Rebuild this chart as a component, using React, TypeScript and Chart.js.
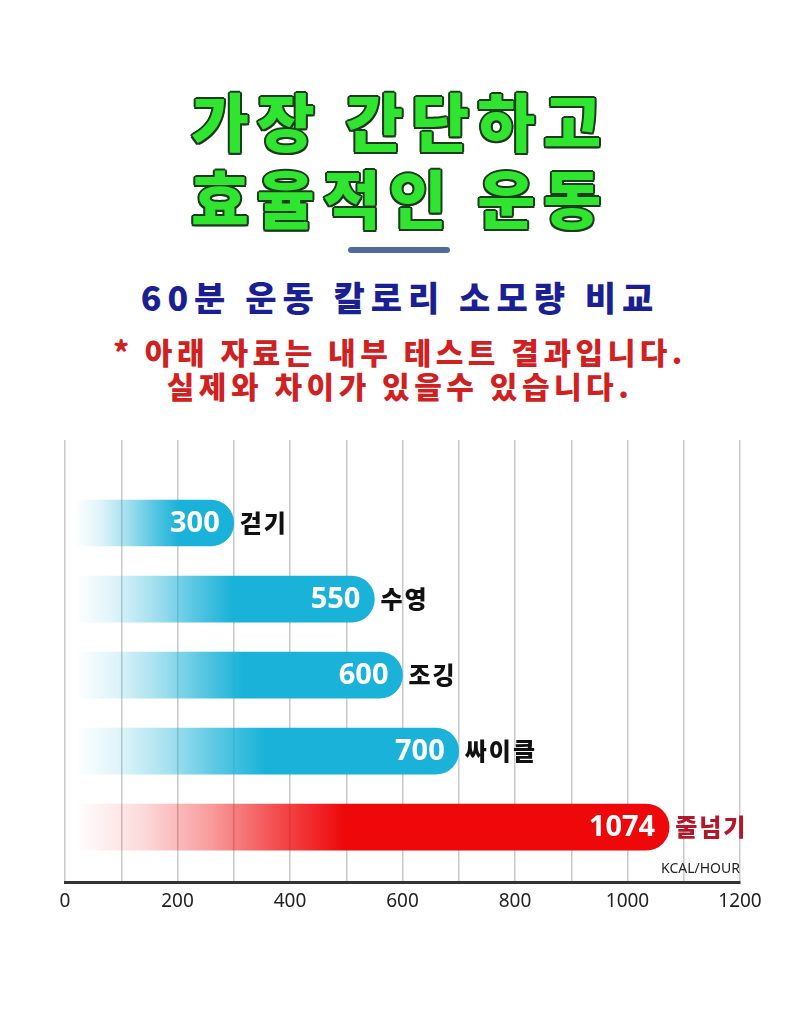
import React, { useEffect, useRef } from 'react';
import { Chart, registerables } from 'chart.js';

Chart.register(...registerables);

// ---- data ----
const categories = ['걷기', '수영', '조깅', '싸이클', '줄넘기'];
const calories = [300, 550, 600, 700, 1074];
const xTickLabels = [0, 200, 400, 600, 800, 1000, 1200];
const titleLines = ['가장 간단하고', '효율적인 운동'];
const subtitle = '60분 운동 칼로리 소모량 비교';
const notes = ['* 아래 자료는 내부 테스트 결과입니다.', '실제와 차이가 있을수 있습니다.'];
const unitLabel = 'KCAL/HOUR';

// ---- styles ----
const BLUE = [26, 178, 216];
const RED = [238, 8, 10];
const barRGB = [BLUE, BLUE, BLUE, BLUE, RED];
const nameColors = ['#111111', '#111111', '#111111', '#111111', '#b3182a'];
const KR = '"Noto Sans CJK KR", "Noto Sans", sans-serif';

const rgba = (c: number[], a: number) => `rgba(${c[0]},${c[1]},${c[2]},${a})`;

const labelPlugin = {
  id: 'barLabels',
  afterDatasetsDraw(chart: any) {
    const meta = chart.getDatasetMeta(0);
    const ctx = chart.ctx as CanvasRenderingContext2D;
    const area = chart.chartArea;
    meta.data.forEach((bar: any, i: number) => {
      ctx.save();
      ctx.textBaseline = 'middle';
      ctx.font = 'bold 29px "Open Sans", sans-serif';
      ctx.fillStyle = '#ffffff';
      ctx.textAlign = 'right';
      ctx.fillText(String(calories[i]), bar.x - 14, bar.y + 1);
      ctx.font = `900 24px ${KR}`;
      (ctx as any).letterSpacing = '2px';
      ctx.fillStyle = nameColors[i];
      ctx.textAlign = 'left';
      ctx.fillText(categories[i], bar.x + 6, bar.y);
      ctx.restore();
    });
    ctx.save();
    ctx.font = '14px "Noto Sans", sans-serif';
    ctx.fillStyle = '#222';
    ctx.textAlign = 'right';
    ctx.textBaseline = 'middle';
    ctx.fillText(unitLabel, area.right, area.bottom - 13);
    ctx.restore();
  },
};

function ChartCanvas() {
  const ref = useRef<HTMLCanvasElement>(null);
  useEffect(() => {
    if (!ref.current) return;
    const chart = new Chart(ref.current, {
      type: 'bar',
      data: {
        labels: categories,
        datasets: [
          {
            data: calories.map((v, i) => ({ x: v, y: i })) as any,
            backgroundColor: (c: any) => {
              const chart = c.chart;
              const area = chart.chartArea;
              const i = c.dataIndex;
              const col = barRGB[i] || BLUE;
              if (!area) return rgba(col, 1);
              const xs = chart.scales.x;
              const base = xs.getPixelForValue(0);
              const end = xs.getPixelForValue(calories[i]);
              const g = chart.ctx.createLinearGradient(base + 10, 0, base + 50 + 0.38 * (end - base), 0);
              g.addColorStop(0, rgba(col, 0));
              g.addColorStop(0.25, rgba(col, 0.15));
              g.addColorStop(0.5, rgba(col, 0.4));
              g.addColorStop(0.75, rgba(col, 0.72));
              g.addColorStop(1, rgba(col, 1));
              return g;
            },
            borderWidth: 0,
            borderRadius: 23,
            borderSkipped: 'start',
            barThickness: 46,
          },
        ],
      },
      options: {
        animation: false,
        responsive: false,
        indexAxis: 'y',
        layout: { padding: { left: 65, right: 60, top: 20, bottom: 39 } },
        plugins: { legend: { display: false }, tooltip: { enabled: false }, title: { display: false } },
        scales: {
          x: {
            type: 'linear',
            min: 0,
            max: 1200,
            ticks: {
              stepSize: 100,
              autoSkip: false,
              maxRotation: 0,
              padding: 8,
              color: '#222',
              font: { family: '"Noto Sans", sans-serif', size: 19 },
              callback: (v: any) => (xTickLabels.includes(Number(v)) ? String(v) : ''),
            },
            grid: { color: '#c9c9c9', lineWidth: 1.5, drawTicks: false },
            border: { color: '#333333', width: 3 },
          },
          y: {
            type: 'linear',
            reverse: true,
            offset: false,
            min: -1.092,
            max: 4.724,
            display: false,
          },
        },
      },
      plugins: [labelPlugin],
    });
    return () => chart.destroy();
  }, []);
  return <canvas ref={ref} width={800} height={540} style={{ position: 'absolute', left: 0, top: 420 }} />;
}

export default function App() {
  const outline = '#1c3a1c';
  const shadow = [
    `2px 0 ${outline}`, `-2px 0 ${outline}`, `0 2px ${outline}`, `0 -2px ${outline}`,
    `1.5px 1.5px ${outline}`, `-1.5px 1.5px ${outline}`, `1.5px -1.5px ${outline}`, `-1.5px -1.5px ${outline}`,
  ].join(',');
  const centered: React.CSSProperties = { position: 'absolute', left: 0, width: 800, textAlign: 'center', whiteSpace: 'nowrap', fontFamily: KR };
  return (
    <div style={{ position: 'fixed', left: 0, top: 0, width: 800, height: 1017, background: '#fff', overflow: 'hidden' }}>
      {titleLines.map((t, i) => (
        <div key={i} style={{ ...centered, top: 79 + i * 77, height: 80, lineHeight: '80px', fontSize: 63, fontWeight: 900, letterSpacing: 8, color: '#2fe52f', textShadow: shadow }}>
          {t}
        </div>
      ))}
      <div style={{ position: 'absolute', left: 348, top: 247, width: 102, height: 6, borderRadius: 3, background: '#4f6b98' }} />
      <div style={{ ...centered, top: 276, height: 42, lineHeight: '42px', fontSize: 34, fontWeight: 900, letterSpacing: 6, color: '#1b1f94' }}>
        {subtitle}
      </div>
      {notes.map((t, i) => (
        <div key={i} style={{ ...centered, top: 333 + i * 34, height: 36, lineHeight: '36px', fontSize: 30, fontWeight: 900, letterSpacing: 4.5, color: '#d0201f' }}>
          {t}
        </div>
      ))}
      <ChartCanvas />
    </div>
  );
}
